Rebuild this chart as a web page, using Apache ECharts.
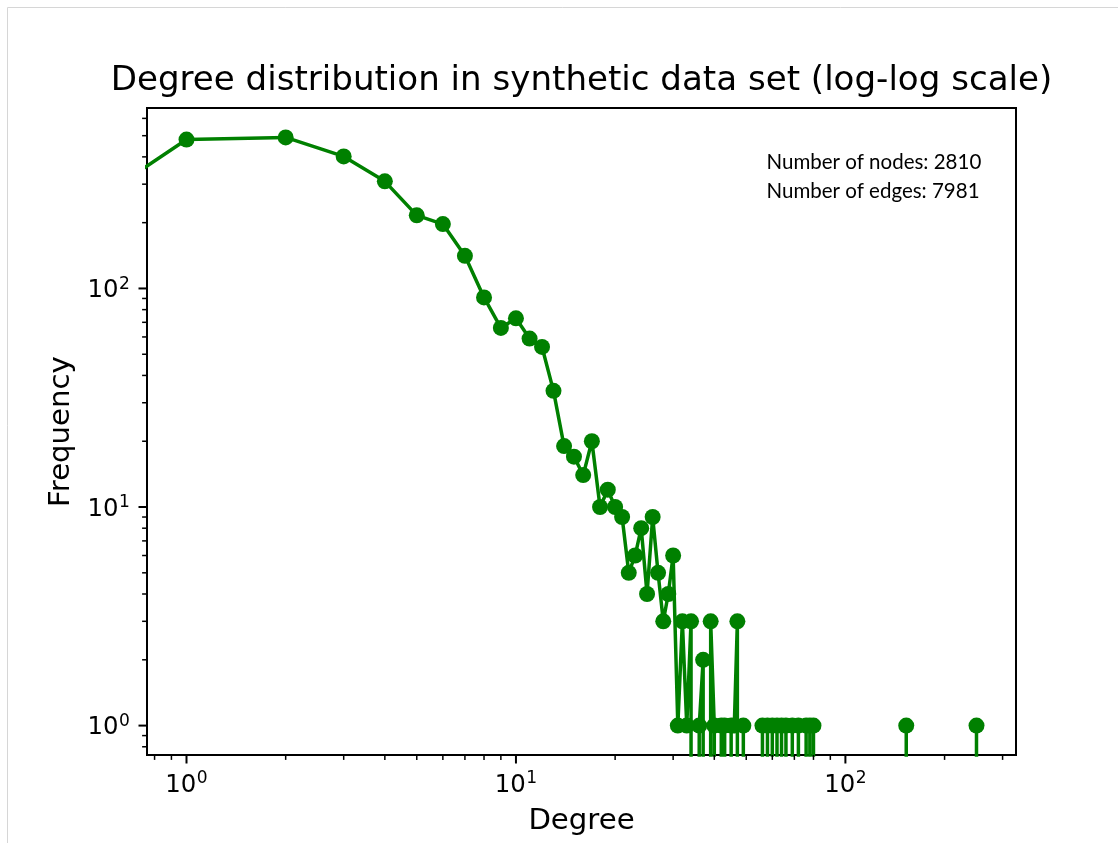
<!DOCTYPE html>
<html>
<head>
<meta charset="utf-8">
<title>Degree distribution</title>
<script src="https://cdn.jsdelivr.net/npm/echarts@6/dist/echarts.min.js"></script>
<style>
  html, body { margin: 0; padding: 0; background: #ffffff; }
  #chart { width: 1118px; height: 843px; }
</style>
</head>
<body>
<div id="chart"></div>
<script>
// Degree histogram of the synthetic graph: every degree that occurs and its node count.
// Degrees that are not listed have a count of zero.
const degrees = [
  1, 2, 3, 4, 5, 6, 7, 8, 9, 10,
  11, 12, 13, 14, 15, 16, 17, 18, 19, 20,
  21, 22, 23, 24, 25, 26, 27, 28, 29, 30,
  31, 32, 33, 34, 36, 37, 39, 40, 42, 43,
  45, 46, 47, 49, 56, 58, 60, 62, 64, 66,
  69, 72, 76, 78, 80, 153, 250
];
const counts = [
  480, 491, 402, 309, 216, 197, 141, 91, 66, 73,
  59, 54, 34, 19, 17, 14, 20, 10, 12, 10,
  9, 5, 6, 8, 4, 9, 5, 3, 4, 6,
  1, 3, 1, 3, 1, 2, 3, 1, 1, 1,
  1, 1, 3, 1, 1, 1, 1, 1, 1, 1,
  1, 1, 1, 1, 1, 1, 1
];
const nodeCount = 2810;
const edgeCount = 7981;

const titleText = 'Degree distribution in synthetic data set (log-log scale)';
const xAxisTitle = 'Degree';
const yAxisTitle = 'Frequency';
const annotationLines = [
  'Number of nodes: ' + nodeCount,
  'Number of edges: ' + edgeCount
];
// decade exponents that may carry a labelled major tick
const tickExponents = [-1, 0, 1, 2, 3];

const GREEN = '#008000';
const FONT = '"DejaVu Sans", "Liberation Sans", sans-serif';
const NOTE_FONT = 'Lato, "Open Sans", "Liberation Sans", sans-serif';

// full histogram from degree 0 up to the largest degree
const countByDegree = new Map(degrees.map((d, i) => [d, counts[i]]));
const maxDegree = Math.max(...degrees);
const histogram = [];
for (let d = 0; d <= maxDegree; d++) histogram.push([d, countByDegree.get(d) || 0]);

// log axes cannot hold zero: non-positive values are sent far below the
// visible range, so their segments run straight out of the plot area.
const LOG_FLOOR = 1e-300;
const plotted = histogram.map(([d, c]) => [d > 0 ? d : LOG_FLOOR, c > 0 ? c : LOG_FLOOR]);

// axis range: data extent in log space padded by 5% on each side
function paddedLogRange(values) {
  const pos = values.filter(v => v > 0);
  const lo = Math.log10(Math.min(...pos));
  const hi = Math.log10(Math.max(...pos));
  const pad = 0.05 * (hi - lo);
  return [Math.pow(10, lo - pad), Math.pow(10, hi + pad)];
}
const [xMin, xMax] = paddedLogRange(degrees);
const [yMin, yMax] = paddedLogRange(counts);

const GRID = { left: 147, right: 102, top: 108, bottom: 88 };
const AX_LEFT = GRID.left;
const AX_RIGHT = 1118 - GRID.right;
const AX_TOP = GRID.top;
const AX_BOTTOM = 843 - GRID.bottom;

const chart = echarts.init(document.getElementById('chart'), null, { renderer: 'canvas' });

const hiddenAxis = {
  type: 'log',
  logBase: 10,
  axisLine: { show: false },
  axisTick: { show: false },
  axisLabel: { show: false },
  splitLine: { show: false },
  minorTick: { show: false },
  minorSplitLine: { show: false }
};

chart.setOption({
  animation: false,
  backgroundColor: '#ffffff',
  grid: {
    left: GRID.left, right: GRID.right, top: GRID.top, bottom: GRID.bottom,
    show: true, borderColor: '#000000', borderWidth: 2, backgroundColor: 'transparent',
    containLabel: false
  },
  xAxis: Object.assign({}, hiddenAxis, { min: xMin, max: xMax }),
  yAxis: Object.assign({}, hiddenAxis, { min: yMin, max: yMax }),
  series: [{
    type: 'line',
    data: plotted,
    clip: true,
    symbol: 'circle',
    symbolSize: 16,
    showAllSymbol: true,
    lineStyle: { color: GREEN, width: 3.5 },
    itemStyle: { color: GREEN },
    emphasis: { disabled: true },
    z: 3
  }]
});

// ---- ticks, labels and titles, placed through the axes' own scales ----
const measureCtx = document.createElement('canvas').getContext('2d');
function textWidth(str, font) { measureCtx.font = font; return measureCtx.measureText(str).width; }

const X = v => chart.convertToPixel({ xAxisIndex: 0 }, v);
const Y = v => chart.convertToPixel({ yAxisIndex: 0 }, v);

const TICK_FS = 24.4;
const SUP_FS = 17.1;
const SUP_RAISE = 9.3;
const MID = 0.346;           // em-box middle above the baseline (DejaVu Sans)
const MAJOR_LEN = 8.5, MINOR_LEN = 4.9;
const LABEL_GAP = MAJOR_LEN + 8.5;

const baseFont = TICK_FS + 'px ' + FONT;
const supFont = SUP_FS + 'px ' + FONT;

const elements = [];

function text(str, x, y, font, align, extra) {
  return Object.assign({
    type: 'text',
    x: x, y: y,
    silent: true,
    z: 20,
    style: {
      text: str, font: font, fill: '#000000',
      align: align, textAlign: align,
      verticalAlign: 'middle', textVerticalAlign: 'middle'
    }
  }, extra || {});
}
function seg(x1, y1, x2, y2, w, color) {
  return {
    type: 'line', silent: true, z: 20,
    shape: { x1: x1, y1: y1, x2: x2, y2: y2 },
    style: { stroke: color || '#000000', lineWidth: w }
  };
}
// "10" with a raised exponent; left edge x, baseline y
function powerLabel(exp, left, baseline) {
  const wBase = textWidth('10', baseFont);
  elements.push(text('10', left, baseline - MID * TICK_FS, baseFont, 'left'));
  elements.push(text(String(exp), left + wBase + 0.5, baseline - SUP_RAISE - MID * SUP_FS, supFont, 'left'));
}
function powerWidth(exp) {
  return textWidth('10', baseFont) + 0.5 + textWidth(String(exp), supFont);
}

const supHeight = SUP_RAISE + 0.729 * SUP_FS;

// x axis
tickExponents.forEach(k => {
  const major = Math.pow(10, k);
  if (major >= xMin && major <= xMax) {
    const px = X(major);
    elements.push(seg(px, AX_BOTTOM, px, AX_BOTTOM + MAJOR_LEN, 2));
    const baseline = AX_BOTTOM + LABEL_GAP + supHeight;
    powerLabel(k, px - powerWidth(k) / 2, baseline);
  }
  for (let m = 2; m <= 9; m++) {
    const v = m * major;
    if (v > xMin && v < xMax) {
      const px = X(v);
      elements.push(seg(px, AX_BOTTOM, px, AX_BOTTOM + MINOR_LEN, 1.5));
    }
  }
});

// y axis
tickExponents.forEach(k => {
  const major = Math.pow(10, k);
  if (major >= yMin && major <= yMax) {
    const py = Y(major);
    elements.push(seg(AX_LEFT - MAJOR_LEN, py, AX_LEFT, py, 2));
    const right = AX_LEFT - LABEL_GAP;
    powerLabel(k, right - powerWidth(k), py + supHeight / 2);
  }
  for (let m = 2; m <= 9; m++) {
    const v = m * major;
    if (v > yMin && v < yMax) {
      const py = Y(v);
      elements.push(seg(AX_LEFT - MINOR_LEN, py, AX_LEFT, py, 1.5));
    }
  }
});

const centerX = (AX_LEFT + AX_RIGHT) / 2;
const centerY = (AX_TOP + AX_BOTTOM) / 2;

// title, baseline a little above the plot frame
const TITLE_FS = 34.1;
elements.push(text(titleText, centerX, AX_TOP - 14.6 - MID * TITLE_FS, TITLE_FS + 'px ' + FONT, 'center'));

// axis titles
const LABEL_FS = 29.2;
elements.push(text(xAxisTitle, centerX, 832 - MID * LABEL_FS, LABEL_FS + 'px ' + FONT, 'center'));
elements.push(text(yAxisTitle, 61.2, centerY, LABEL_FS + 'px ' + FONT, 'center', { rotation: Math.PI / 2 }));

// node / edge totals
const NOTE_FS = 20.5;
annotationLines.forEach((line, i) => {
  elements.push(text(line, 766.5, 170 + i * 29 - 0.387 * NOTE_FS, NOTE_FS + 'px ' + NOTE_FONT, 'left'));
});

// light frame along the top and left of the figure
elements.push(seg(7.5, 7.5, 1118, 7.5, 1, '#d6d6d6'));
elements.push(seg(7.5, 7.5, 7.5, 843, 1, '#d6d6d6'));

chart.setOption({ graphic: { elements: elements } });
</script>
</body>
</html>
